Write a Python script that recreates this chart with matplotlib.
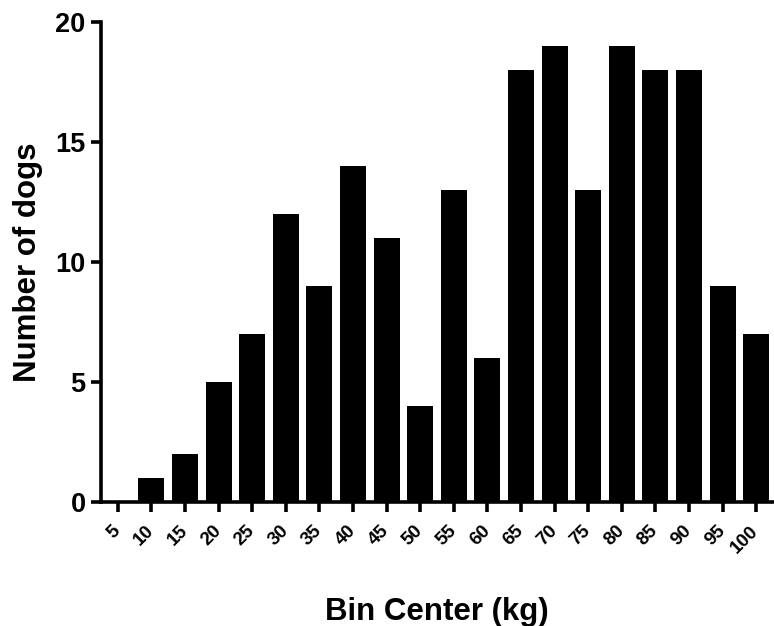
import matplotlib
matplotlib.use('Agg')
import matplotlib.pyplot as plt
import numpy as np

bin_centers = [5, 10, 15, 20, 25, 30, 35, 40, 45, 50,
               55, 60, 65, 70, 75, 80, 85, 90, 95, 100]
dog_counts = [0, 1, 2, 5, 7, 12, 9, 14, 11, 4,
              13, 6, 18, 19, 13, 19, 18, 18, 9, 7]

plt.rcParams['font.family'] = ['Liberation Sans', 'DejaVu Sans']
plt.rcParams['font.weight'] = 'bold'

fig = plt.figure(figsize=(7.74, 6.26), dpi=100)
ax = fig.add_axes([101 / 774, 1 - 502 / 626, 672 / 774, 480 / 626])

x = np.arange(len(bin_centers))
ax.bar(x, dog_counts, width=0.77, color='black')

ax.set_xlim(-0.5, len(bin_centers) - 0.5)
ax.set_ylim(0, 20)
ax.set_yticks([0, 5, 10, 15, 20])
ax.set_xticks(x)
ax.set_xticklabels([str(b) for b in bin_centers], rotation=45,
                   ha='right', va='center', rotation_mode='anchor')

for side in ['top', 'right']:
    ax.spines[side].set_visible(False)
for side in ['left', 'bottom']:
    ax.spines[side].set_linewidth(2.6)

ax.tick_params(axis='y', length=7, width=2.6, labelsize=19.5, pad=4)
ax.tick_params(axis='x', length=7, width=2.6, labelsize=13.5, pad=12)
for lbl in ax.get_xticklabels() + ax.get_yticklabels():
    lbl.set_fontweight('bold')

ax.set_ylabel('Number of dogs', fontsize=22.5, fontweight='bold', labelpad=9)
ax.set_xlabel('Bin Center (kg)', fontsize=22.5, fontweight='bold', labelpad=29)

plt.savefig('out.png', dpi=100)
